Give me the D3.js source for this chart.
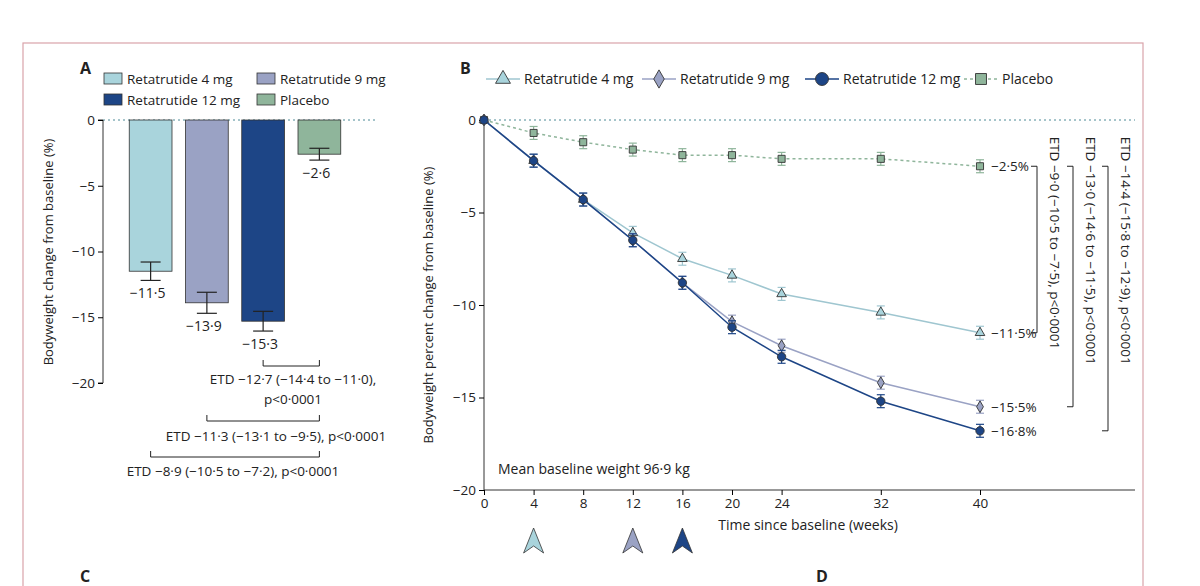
<!DOCTYPE html>
<html><head><meta charset="utf-8">
<script src="https://cdn.jsdelivr.net/npm/d3@7"></script>
<style>body{margin:0;background:#fff}text{font-family:"Open Sans",sans-serif;fill:#222}</style>
</head><body><svg id="c" width="1200" height="586"></svg>
<script>
// panel A data
const barNames = ["Retatrutide 4 mg", "Retatrutide 9 mg", "Retatrutide 12 mg", "Placebo"];
const barValues = [-11.5, -13.9, -15.3, -2.6];
const barErr = [0.7, 0.8, 0.75, 0.45];
const barLabels = ["\u221211\u00b75", "\u221213\u00b79", "\u221215\u00b73", "\u22122\u00b76"];
const colors = ["#a9d4dc", "#9aa2c4", "#1d4586", "#8fb59b"];
// panel B data
const weeks = [0, 4, 8, 12, 16, 20, 24, 32, 40];
const s4 = [0, -2.2, -4.3, -6.1, -7.5, -8.4, -9.4, -10.4, -11.5];
const s9 = [0, -2.2, -4.3, -6.5, -8.8, -10.9, -12.2, -14.2, -15.5];
const s12 = [0, -2.2, -4.3, -6.5, -8.8, -11.2, -12.8, -15.2, -16.8];
const sPl = [0, -0.7, -1.2, -1.6, -1.9, -1.9, -2.1, -2.1, -2.5];
const endLabels = ["\u221211\u00b75%", "\u221215\u00b75%", "\u221216\u00b78%", "\u22122\u00b75%"];
const yTicks = [0, -5, -10, -15, -20];

const svg = d3.select("#c");
const sub = s => s.replace(/-/g, "\u2212");
svg.append("rect").attr("x", 23).attr("y", 43).attr("width", 1120).attr("height", 600)
  .attr("fill", "none").attr("stroke", "#d9a3aa").attr("stroke-width", 1.2);

// ---------- Panel A
const yA = d3.scaleLinear().domain([0, -20]).range([120, 383]);
const xA = d3.scaleBand().domain(barNames).range([118, 352]).paddingInner(0.24).paddingOuter(0.2);
svg.append("text").attr("x", 80).attr("y", 74).attr("font-size", 16).attr("font-weight", "bold").text("A");
barNames.forEach((n, i) => {
  const lx = i % 2 === 0 ? 104 : 257, ly = i < 2 ? 79 : 100;
  svg.append("rect").attr("x", lx).attr("y", ly - 6).attr("width", 18).attr("height", 11)
    .attr("fill", colors[i]).attr("stroke", "#333").attr("stroke-width", 0.8);
  svg.append("text").attr("x", lx + 23).attr("y", ly + 5).attr("font-size", 13.5).text(n);
});
svg.append("line").attr("x1", 103).attr("x2", 378).attr("y1", yA(0)).attr("y2", yA(0))
  .attr("stroke", "#4d8a96").attr("stroke-dasharray", "2,3");
const axA = svg.append("g").attr("transform", "translate(103,0)")
  .call(d3.axisLeft(yA).tickValues(yTicks).tickSize(5).tickFormat(d => sub(String(d))));
axA.select(".domain").attr("d", "M-5,120H0V383H-5").attr("stroke", "#333");
axA.selectAll("text").attr("font-size", 13.5).attr("fill", "#333");
svg.append("text").attr("transform", "translate(53,252) rotate(-90)").attr("text-anchor", "middle")
  .attr("font-size", 13).text("Bodyweight change from baseline (%)");
barNames.forEach((n, i) => {
  const x = xA(n), w = xA.bandwidth(), cx = x + w / 2, v = barValues[i];
  svg.append("rect").attr("x", x).attr("y", yA(0)).attr("width", w).attr("height", yA(v) - yA(0))
    .attr("fill", colors[i]).attr("stroke", "#333").attr("stroke-width", 0.8);
  const g = svg.append("g").attr("stroke", "#222").attr("stroke-width", 1.2);
  g.append("line").attr("x1", cx).attr("x2", cx).attr("y1", yA(v + barErr[i])).attr("y2", yA(v - barErr[i]));
  [v + barErr[i], v - barErr[i]].forEach(e => g.append("line").attr("x1", cx - 10).attr("x2", cx + 10).attr("y1", yA(e)).attr("y2", yA(e)));
  svg.append("text").attr("x", cx - 3).attr("y", yA(v - barErr[i]) + 18).attr("text-anchor", "middle")
    .attr("font-size", 14).text(barLabels[i]);
});
// comparison brackets
function bracketA(i, y) {
  const x1 = xA(barNames[i]) + xA.bandwidth() / 2, x2 = xA(barNames[3]) + xA.bandwidth() / 2;
  svg.append("path").attr("d", `M${x1},${y - 6}V${y}H${x2}V${y - 6}`).attr("fill", "none").attr("stroke", "#222");
}
bracketA(2, 366); bracketA(1, 421); bracketA(0, 457);
[["ETD \u221212\u00b77 (\u221214\u00b74 to \u221211\u00b70),", 293, 384], ["p<0\u00b70001", 293, 404],
 ["ETD \u221211\u00b73 (\u221213\u00b71 to \u22129\u00b75), p<0\u00b70001", 276, 441],
 ["ETD \u22128\u00b79 (\u221210\u00b75 to \u22127\u00b72), p<0\u00b70001", 233, 476]]
  .forEach(([t, x, y]) => svg.append("text").attr("x", x).attr("y", y).attr("text-anchor", "middle").attr("font-size", 13.5).text(t));

// ---------- Panel B
const xB = d3.scaleLinear().domain([0, 40]).range([484, 980]);
const yB = d3.scaleLinear().domain([0, -20]).range([120, 490]);
svg.append("text").attr("x", 460).attr("y", 74).attr("font-size", 16).attr("font-weight", "bold").text("B");
svg.append("line").attr("x1", 484).attr("x2", 1135).attr("y1", yB(0)).attr("y2", yB(0))
  .attr("stroke", "#4d8a96").attr("stroke-dasharray", "2,3");
const axY = svg.append("g").attr("transform", "translate(484,0)")
  .call(d3.axisLeft(yB).tickValues(yTicks).tickSize(5).tickFormat(d => sub(String(d))));
axY.select(".domain").attr("d", "M0,120V490").attr("stroke", "#333");
axY.selectAll("text").attr("font-size", 13.5).attr("fill", "#333");
const axX = svg.append("g").attr("transform", "translate(0,490)")
  .call(d3.axisBottom(xB).tickValues(weeks).tickSize(5));
axX.select(".domain").attr("d", "M484,0H1135").attr("stroke", "#333");
axX.selectAll("text").attr("font-size", 13.5).attr("fill", "#333");
svg.append("text").attr("transform", "translate(433,305) rotate(-90)").attr("text-anchor", "middle")
  .attr("font-size", 13).text("Bodyweight percent change from baseline (%)");
svg.append("text").attr("x", 808).attr("y", 530).attr("text-anchor", "middle").attr("font-size", 14).text("Time since baseline (weeks)");
svg.append("text").attr("x", 498).attr("y", 474).attr("font-size", 14).text("Mean baseline weight 96\u00b79 kg");

const series = [
  { vals: s4, col: "#9fc6d0", fill: "#a9d4dc", sym: d3.symbolTriangle, dash: null, sz: 40 },
  { vals: s9, col: "#9aa2c4", fill: "#9aa2c4", sym: d3.symbolDiamond, dash: null, sz: 40 },
  { vals: s12, col: "#1d4586", fill: "#1d4586", sym: d3.symbolCircle, dash: null, sz: 55 },
  { vals: sPl, col: "#8fb59b", fill: "#8fb59b", sym: d3.symbolSquare, dash: "3,3", sz: 50 }
];
const line = d3.line().x((d, i) => xB(weeks[i])).y(d => yB(d));
[3, 0, 1, 2].forEach(k => {
  const s = series[k];
  svg.append("path").datum(s.vals).attr("d", line).attr("fill", "none").attr("stroke", s.col)
    .attr("stroke-width", 1.5).attr("stroke-dasharray", s.dash);
  s.vals.forEach((v, i) => {
    if (i === 0) return;
    const e = 0.35;
    const g = svg.append("g").attr("stroke", s.col).attr("stroke-width", 1.2);
    g.append("line").attr("x1", xB(weeks[i])).attr("x2", xB(weeks[i])).attr("y1", yB(v + e)).attr("y2", yB(v - e));
    [v + e, v - e].forEach(y => g.append("line").attr("x1", xB(weeks[i]) - 4).attr("x2", xB(weeks[i]) + 4).attr("y1", yB(y)).attr("y2", yB(y)));
  });
  svg.selectAll(null).data(s.vals).enter().append("path")
    .attr("d", d3.symbol().type(s.sym).size(s.sz))
    .attr("transform", (d, i) => `translate(${xB(weeks[i])},${yB(d)})`)
    .attr("fill", s.fill).attr("stroke", "#333").attr("stroke-width", 0.9);
});
[[-11.5, 0], [-15.5, 1], [-16.8, 2], [-2.5, 3]].forEach(([v, k]) =>
  svg.append("text").attr("x", 991).attr("y", yB(v) + 5).attr("font-size", 13.5).text(endLabels[k]));

// legend B
series.forEach((s, i) => {
  const lx = [486, 642, 805, 964][i];
  svg.append("line").attr("x1", lx).attr("x2", lx + 34).attr("y1", 79).attr("y2", 79)
    .attr("stroke", s.col).attr("stroke-width", 1.5).attr("stroke-dasharray", s.dash);
  svg.append("path").attr("d", d3.symbol().type(s.sym).size(s.sz * 2.4)).attr("transform", `translate(${lx + 17},79)`)
    .attr("fill", s.fill).attr("stroke", "#333").attr("stroke-width", 0.9);
  svg.append("text").attr("x", lx + 38).attr("y", 84).attr("font-size", 14).text(barNames[i]);
});

// ETD brackets B
[[1037, -11.5, "ETD \u22129\u00b70 (\u221210\u00b75 to \u22127\u00b75), p<0\u00b70001", 1050],
 [1073, -15.5, "ETD \u221213\u00b70 (\u221214\u00b76 to \u221211\u00b75), p<0\u00b70001", 1086],
 [1108, -16.8, "ETD \u221214\u00b74 (\u221215\u00b78 to \u221212\u00b79), p<0\u00b70001", 1121]].forEach(([x, v, t, tx]) => {
  svg.append("path").attr("d", `M${x - 6},${yB(-2.5)}H${x}V${yB(v)}H${x - 6}`).attr("fill", "none").attr("stroke", "#222");
  svg.append("text").attr("transform", `translate(${tx},${yB(-0.9)}) rotate(90)`).attr("font-size", 13.5).text(t);
});

// dose arrowheads
[[4, "#a9d4dc"], [12, "#9aa2c4"], [16, "#1d4586"]].forEach(([w, c]) => {
  const x = xB(w);
  svg.append("path").attr("d", `M${x},528L${x + 10},553L${x},546L${x - 10},553Z`).attr("fill", c).attr("stroke", "#333").attr("stroke-width", 0.8);
});
// partial panel labels at bottom
svg.append("text").attr("x", 80).attr("y", 582).attr("font-size", 16).attr("font-weight", "bold").text("C");
svg.append("text").attr("x", 816).attr("y", 582).attr("font-size", 16).attr("font-weight", "bold").text("D");
</script></body></html>
